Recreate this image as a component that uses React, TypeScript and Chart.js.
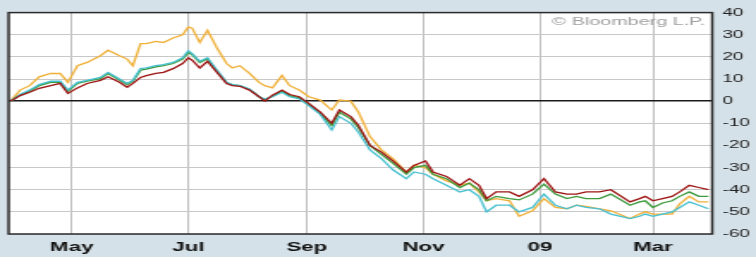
import React, { useEffect, useRef } from "react";
import { Chart, registerables } from "chart.js";

Chart.register(...registerables);

// Days since 30 Mar 2008
const days = [
  0, 5, 10, 15, 21, 26, 30, 35, 40, 47,
  51, 57, 61, 64, 68, 71, 76, 80, 85, 90,
  93, 95, 99, 103, 108, 113, 116, 120, 125, 130,
  133, 137, 142, 146, 151, 156, 162, 168, 172, 178,
  182, 188, 194, 200, 207, 211, 217, 221, 228, 235,
  240, 245, 249, 254, 261, 266, 273, 279, 285, 291,
  296, 301, 308, 314, 324, 329, 332, 336, 341, 346,
  350, 355, 360, 365,
];

const orangeSeries = [
  0, 5, 7, 11, 12.5, 12.5, 8.5, 16, 17.5, 20.5,
  23, 20.5, 19, 16, 26, 26, 27, 26.5, 28.5, 30,
  33.5, 33, 26.5, 32, 24, 17, 15, 16, 12.5, 8.5,
  7, 6, 11.6, 7, 5, 2, 0.5, -4, 0.5, 0,
  -5, -16, -22, -26, -32, -29, -30, -33, -36, -38,
  -37, -41, -45, -44, -45, -52, -49.5, -44, -48, -48.6,
  -47, -47.5, -48.6, -49.5, -53, -51, -50, -51, -51, -51,
  -46.4, -43, -45.5, -45.5,
];

const redSeries = [
  0, 2.5, 4, 5.8, 7, 8, 3.5, 6, 8, 9.4,
  11, 8.5, 6.3, 8, 10.7, 11.5, 12.5, 13, 14.7, 17,
  19.6, 18.5, 15, 18, 13, 8, 7, 6.7, 5, 2,
  0, 2.7, 5, 3, 2, -1, -5, -10, -4, -7,
  -11, -20, -23, -27, -32, -29, -27, -32, -34, -38,
  -35, -38, -44, -41, -41, -43, -40, -35, -41, -42,
  -42, -41, -41, -40, -45.5, -44, -43, -45, -44, -43,
  -41, -38, -39, -40,
];

const cyanSeries = [
  0, 3, 5, 7.5, 9, 9, 5, 8.5, 9.4, 10.7,
  13, 10, 8, 9.4, 14.7, 15, 16, 16.5, 17.5, 19.6,
  22.8, 21.5, 18, 19.6, 14, 8.5, 7.5, 7, 5.5, 2,
  1, 2, 4, 2, 1, -2, -6, -13, -7, -10,
  -14, -22, -26, -31, -35, -32, -33, -35, -38, -41,
  -40, -43, -50, -47, -47, -50, -48, -42, -47, -48.6,
  -47, -48, -48.6, -51, -53, -52, -51, -52, -51, -50,
  -48, -45.5, -47, -48.6,
];

const greenSeries = [
  0, 2.8, 4.6, 7, 8.5, 8.5, 4.5, 8, 9, 10.2,
  12.5, 9.5, 7.5, 9, 14, 14.5, 15.5, 16, 17, 19,
  22, 21, 17.5, 19.2, 13.5, 8.3, 7.3, 7, 5.3, 2,
  0.5, 2.3, 4.5, 2.5, 1.5, -1.5, -5.5, -11, -5, -8,
  -12, -20, -24, -28, -33, -30, -29, -33, -35, -39,
  -37, -40, -45, -43, -44, -44.6, -42, -37.5, -42, -44,
  -43, -44, -44, -42, -47, -45.5, -45, -48, -46, -45,
  -43, -41, -43, -43,
];

const monthTickDays = [32, 93, 155, 216, 277, 336];
const monthTickLabels = ["May", "Jul", "Sep", "Nov", "09", "Mar"];
const yMin = -60;
const yMax = 40;
const yStep = 10;
const watermark = "\u00A9 Bloomberg L.P.";

const INNER_W = 440;
const OUTER_W = 756;
const H = 257;

export default function App() {
  const ref = useRef<HTMLCanvasElement | null>(null);

  useEffect(() => {
    document.body.style.margin = "0";
    document.body.style.overflow = "hidden";
    const canvas = ref.current;
    if (!canvas) return;

    const toPts = (arr: number[]) => arr.map((v, i) => ({ x: days[i], y: v }));

    const bgPlugin = {
      id: "bgPlugin",
      beforeDraw(chart: any) {
        const { ctx, chartArea } = chart;
        ctx.save();
        ctx.fillStyle = "#d5e1e8";
        ctx.fillRect(0, 0, chart.width, chart.height);
        ctx.fillStyle = "#ffffff";
        ctx.fillRect(chartArea.left, chartArea.top, chartArea.right - chartArea.left, chartArea.bottom - chartArea.top);
        ctx.restore();
      },
      beforeDatasetsDraw(chart: any) {
        const { ctx, chartArea } = chart;
        ctx.save();
        ctx.font = "11.5px 'Liberation Sans', Arial, sans-serif";
        ctx.fillStyle = "#a0a0a0";
        ctx.textAlign = "right";
        ctx.textBaseline = "middle";
        ctx.fillText(watermark, chartArea.right - 4, chartArea.top + 9);
        ctx.restore();
      },
      afterDraw(chart: any) {
        const { ctx, chartArea } = chart;
        ctx.save();
        ctx.strokeStyle = "#2a2a2a";
        ctx.lineWidth = 1.5;
        ctx.strokeRect(chartArea.left, chartArea.top, chartArea.right - chartArea.left, chartArea.bottom - chartArea.top);
        ctx.restore();
      },
    };

    const chart = new Chart(canvas, {
      type: "line",
      data: {
        datasets: [
          { label: "Red", data: toPts(redSeries), borderColor: "#9e1414", borderWidth: 1.3, pointRadius: 0, tension: 0 },
          { label: "Cyan", data: toPts(cyanSeries), borderColor: "#48c0d0", borderWidth: 1.3, pointRadius: 0, tension: 0 },
          { label: "Green", data: toPts(greenSeries), borderColor: "#3c9a3c", borderWidth: 1.3, pointRadius: 0, tension: 0 },
          { label: "Orange", data: toPts(orangeSeries), borderColor: "#f0b038", borderWidth: 1.3, pointRadius: 0, tension: 0 },
        ],
      },
      options: {
        responsive: false,
        maintainAspectRatio: false,
        animation: false,
        devicePixelRatio: 1,
        layout: { padding: { left: 5, top: 11, right: 0, bottom: 0 } },
        plugins: { legend: { display: false }, tooltip: { enabled: false } },
        scales: {
          x: {
            type: "linear",
            position: "bottom",
            min: -1,
            max: 367,
            afterBuildTicks: (axis: any) => {
              axis.ticks = monthTickDays.map((v) => ({ value: v }));
            },
            ticks: {
              autoSkip: false,
              maxRotation: 0,
              padding: 6,
              color: "#111111",
              font: { family: "'Liberation Sans', Arial, sans-serif", size: 13, weight: "bold" },
              callback: (v: any) => {
                const i = monthTickDays.indexOf(Number(v));
                return i >= 0 ? monthTickLabels[i] : "";
              },
            },
            grid: { color: "#c0c0c0", lineWidth: 1, drawTicks: false },
            border: { display: false },
            afterFit: (s: any) => {
              s.height = 23;
            },
          },
          y: {
            type: "linear",
            position: "right",
            min: yMin,
            max: yMax,
            ticks: {
              stepSize: yStep,
              padding: 6,
              color: "#222222",
              font: { family: "'Liberation Sans', Arial, sans-serif", size: 11 },
            },
            grid: {
              drawTicks: false,
              color: (c: any) => (c.tick && c.tick.value === 0 ? "#1a1a1a" : "#c8c8c8"),
              lineWidth: (c: any) => (c.tick && c.tick.value === 0 ? 1.5 : 1),
            },
            border: { display: false },
            afterFit: (s: any) => {
              s.width = 25.5;
            },
          },
        },
      },
      plugins: [bgPlugin],
    });

    return () => chart.destroy();
  }, []);

  return (
    <div
      style={{
        width: INNER_W,
        height: H,
        transform: `scale(${OUTER_W / INNER_W}, 1)`,
        transformOrigin: "0 0",
      }}
    >
      <canvas ref={ref} width={INNER_W} height={H} style={{ width: INNER_W, height: H, display: "block" }} />
    </div>
  );
}
